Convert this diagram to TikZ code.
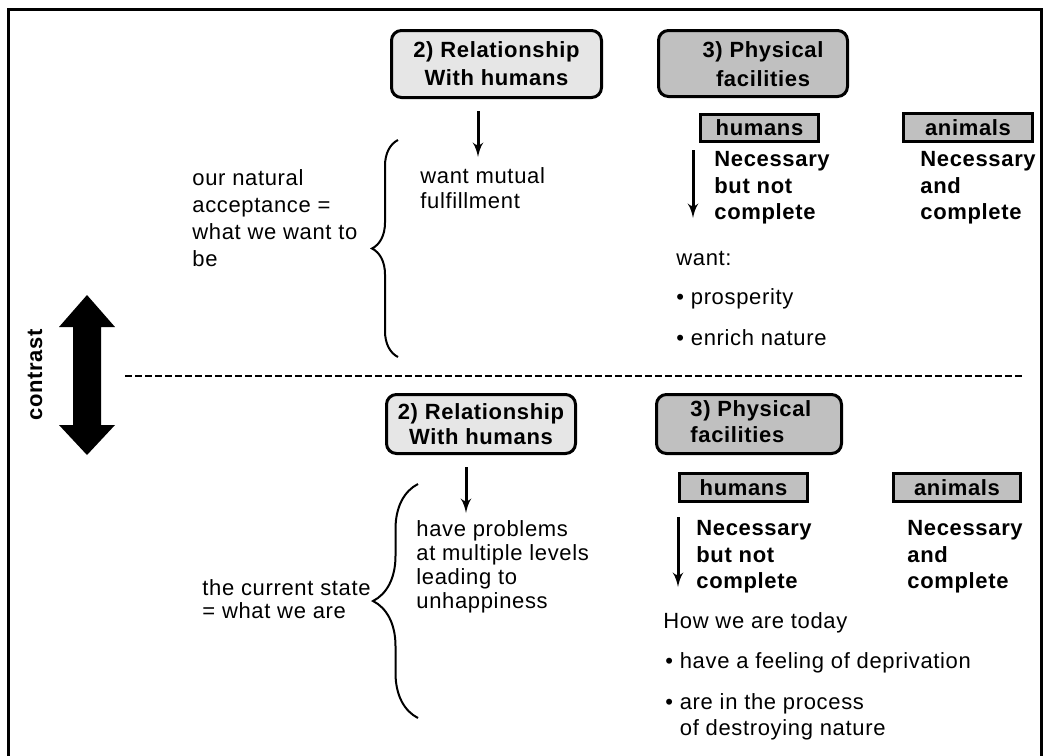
\documentclass[tikz,border=0pt]{standalone}
\usepackage{fontspec}
\setmainfont{Liberation Sans}[LetterSpace=3]
\usetikzlibrary{arrows,calc,decorations.pathreplacing}

\definecolor{lightbox}{HTML}{E6E6E6}
\definecolor{darkbox}{HTML}{C0C0C0}

\tikzset{
  plain/.style={inner sep=0pt, anchor=west, align=left, font=\fontsize{11}{13.5}\selectfont},
  strong/.style={inner sep=0pt, anchor=west, align=left, font=\fontsize{11}{13.2}\selectfont\bfseries},
  headbox/.style={draw, line width=1.5pt, rounded corners=5pt, inner sep=0pt, align=center, font=\fontsize{11}{14}\selectfont\bfseries},
  tagbox/.style={draw, line width=1.5pt, fill=darkbox, inner sep=0pt, font=\fontsize{11}{13}\selectfont\bfseries},
  pointer/.style={->, line width=1.5pt},
  curly/.style={decorate, line width=1pt}
}

\begin{document}
\begin{tikzpicture}[x=0.5pt, y=-0.5pt, >=latex']
\useasboundingbox (0,0) rectangle (1051,756);

% frame
\draw [line width=1.5pt] (8,756) -- (8,9) -- (1041,9) -- (1041,756);

% contrast arrow
\fill (87,295) -- (115,327) -- (101,327) -- (101,425) -- (115,425) -- (87,455)
      -- (59,425) -- (73,425) -- (73,327) -- (59,327) -- cycle;
\node [strong, anchor=center, rotate=90] at (35, 375) (contrast) {contrast};

\coordinate (dl) at (125,376);
\coordinate (dr) at (1025,376);
\draw [dashed, line width=1pt, dash pattern=on 3.5pt off 1.5pt] (dl) -- (dr);

%% upper half: what we want to be
\node [headbox, fill=lightbox, minimum width=105pt, minimum height=33.5pt] at (496.5, 64) (rel1) {2) Relationship\\With humans};
\node [headbox, fill=darkbox, minimum width=94.5pt, minimum height=33pt] at (753, 63.5) (phys1) {};
\node [strong, anchor=center, align=center, font=\fontsize{11}{14.5}\selectfont\bfseries] at (763, 64) (phys1txt) {3) Physical\\facilities};

\node [plain] at (192, 218) (want) {our natural\\acceptance =\\what we want to\\be};
\draw [curly, decoration={brace, amplitude=13pt}] (398,357) -- (398,140) coordinate (brace1);

\node [plain, font=\fontsize{11}{12.5}\selectfont] at (420, 188) (mutual) {want mutual\\fulfillment};
\coordinate (tip1) at (478,157);
\draw [pointer] ($(rel1.south)+(-18.5,12)$) -- (tip1);

\node [tagbox, minimum width=59pt, minimum height=13.5pt] at (759.5, 128) (hum1) {humans};
\node [tagbox, minimum width=64.5pt, minimum height=14pt] at (968, 127.5) (ani1) {animals};
\coordinate (tip2) at (693,218);
\draw [pointer] ($(hum1.south west)+(-6,7)$) -- (tip2);

\node [strong] at (714, 188) (need1) {Necessary\\but not\\complete};
\node [strong] at (920, 188) (full1) {Necessary\\and\\complete};

\node [plain] at (676, 258) (wants) {want:};
\node [plain] at (676, 299) (prosper) {\textbullet\ prosperity};
\node [plain] at (676, 338) (enrich) {\textbullet\ enrich nature};

%% lower half: what we are
\node [headbox, fill=lightbox, minimum width=94.5pt, minimum height=29.5pt, font=\fontsize{11}{12.5}\selectfont\bfseries] at (481, 424) (rel2) {2) Relationship\\With humans};
\node [headbox, fill=darkbox, minimum width=92.5pt, minimum height=29.5pt] at (749, 424) (phys2) {};
\node [strong, font=\fontsize{11}{13}\selectfont\bfseries] at (690, 422) (phys2txt) {3) Physical\\facilities};

\node [plain, font=\fontsize{11}{11.8}\selectfont] at (202, 599) (state) {the current state\\= what we are};
\draw [curly, decoration={brace, amplitude=22.5pt}] (418,718) -- (418,484) coordinate (brace2);

\node [plain, font=\fontsize{11}{12}\selectfont] at (416, 567) (problems) {have problems\\at multiple levels\\leading to\\unhappiness};
\coordinate (tip3) at (466,513);
\draw [pointer] ($(rel2.south)+(-15,12)$) -- (tip3);

\node [tagbox, minimum width=64pt, minimum height=14pt] at (743.5, 487.5) (hum2) {humans};
\node [tagbox, minimum width=63.5pt, minimum height=14pt] at (957, 487.5) (ani2) {animals};
\coordinate (tip4) at (678,587);
\draw [pointer] ($(hum2.south west)+(0,14)$) -- (tip4);

\node [strong] at (696, 557) (need2) {Necessary\\but not\\complete};
\node [strong] at (907, 557) (full2) {Necessary\\and\\complete};

\node [plain] at (663, 623) (today) {How we are today};
\node [plain] at (665, 663) (depriv) {\textbullet\ have a feeling of deprivation};
\node [plain, font=\fontsize{11}{13}\selectfont] at (665, 717) (destroy) {\textbullet\ are in the process\\\hphantom{\textbullet\ }of destroying nature};

\end{tikzpicture}
\end{document}
